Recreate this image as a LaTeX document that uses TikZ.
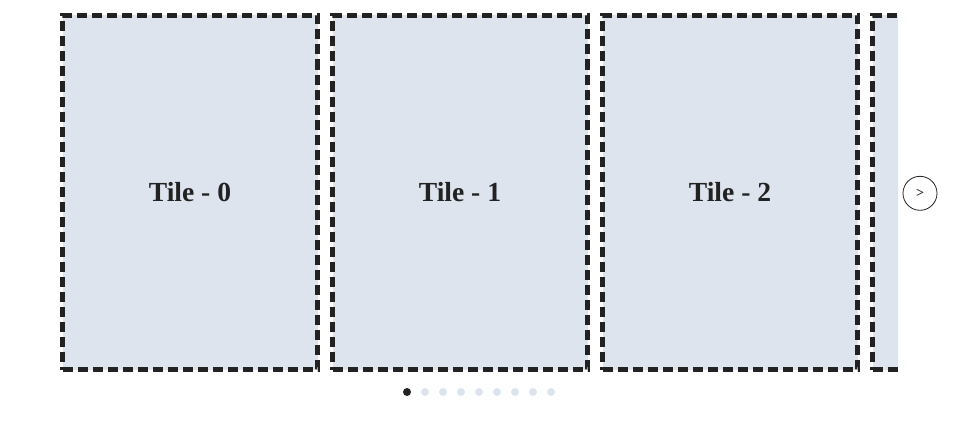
\documentclass[tikz,border=0pt]{standalone}
\usepackage{fontspec}
\setmainfont{Liberation Serif}
\usetikzlibrary{positioning}
\definecolor{tilefill}{HTML}{DDE4EE}
\definecolor{ink}{HTML}{222222}

\begin{document}
\begin{tikzpicture}[x=1pt, y=-1pt]
\tikzstyle{tilebox}=[rectangle, draw=ink, fill=tilefill, line width=5pt, dash pattern=on 10pt off 5pt, minimum width=255pt, minimum height=354pt, inner sep=0pt, font=\fontsize{27.6}{32}\selectfont\bfseries, text=ink, node distance=10pt]
\tikzstyle{pagerdot}=[circle, fill=tilefill, minimum size=8pt, inner sep=0pt, outer sep=0pt, node distance=10pt]
\tikzstyle{navbutton}=[circle, draw=ink, line width=0.8pt, minimum size=34pt, inner sep=0pt, font=\fontsize{14}{16}\selectfont\bfseries, text=ink]
    \useasboundingbox (0,0) rectangle (958,428);
    % tiles
    \node[tilebox] (T0) at (190,192.5) {Tile - 0};
    \node[tilebox, right=of T0] (T1) {Tile - 1};
    \node[tilebox, right=of T1] (T2) {Tile - 2};
    \begin{scope}
        \clip (862,0) rectangle (898,428);
        \node[tilebox, right=of T2] (T3) {};
    \end{scope}
    % next button
    \node[navbutton] (next) at (920,193.3) {>};
    % pager
    \node[pagerdot, fill=ink] (D0) at (407,392) {};
    \foreach \i [remember=\i as \j (initially 0)] in {1,...,8}
        \node[pagerdot, right=of D\j] (D\i) {};
\end{tikzpicture}
\end{document}
